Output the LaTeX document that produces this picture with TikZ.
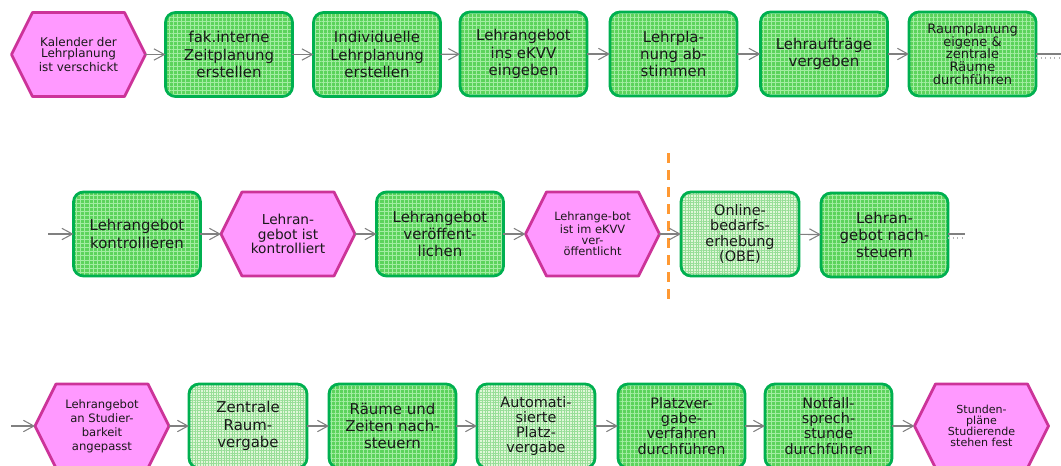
\documentclass[tikz,border=0pt]{standalone}
\usepackage{fontspec}
\setmainfont{DejaVu Sans}
\usetikzlibrary{arrows.meta,patterns.meta,backgrounds}
\definecolor{evtfill}{HTML}{FF99FF}
\definecolor{evtline}{HTML}{CC3399}
\definecolor{fnline}{HTML}{00B050}
\definecolor{fndark}{HTML}{5CD35C}
\definecolor{fngrid}{HTML}{A2EDA2}
\definecolor{fnlight}{HTML}{E0F7D8}
\definecolor{fnlightgrid}{HTML}{98DE98}
\definecolor{flowgray}{HTML}{808080}
\definecolor{cutorange}{HTML}{FF9933}

\begin{document}
\begin{tikzpicture}[x=0.02cm,y=-0.02cm,
  event/.style={rectangle,minimum width=2.68cm,minimum height=1.68cm,
    inner sep=1pt,outer sep=0pt,align=center,text=black!90,
    font=\fontsize{6.6}{6.4}\selectfont},
  hexline/.style={draw=evtline,fill=evtfill,line width=1.6pt,line join=round},
  funcbase/.style={rectangle,rounded corners=0.2cm,draw=fnline,line width=1.6pt,
    minimum height=1.68cm,inner sep=1pt,outer sep=0pt,align=center,text=black!90,
    font=\fontsize{8.5}{9.9}\selectfont},
  func/.style={funcbase,preaction={fill=fndark},minimum width=2.54cm,
    pattern={Hatch[angle=0,distance=2.3pt,line width=0.45pt]},pattern color=fngrid},
  funclight/.style={funcbase,preaction={fill=fnlight},minimum width=2.36cm,
    pattern={Hatch[angle=0,distance=1.5pt,line width=0.3pt]},pattern color=fnlightgrid},
  fourlines/.style={font=\fontsize{8.2}{8.6}\selectfont},
  flow/.style={draw=flowgray,line width=0.6pt,-{Straight Barb[length=6pt,width=6.5pt]}},
  contline/.style={draw=flowgray,line width=0.6pt},
  contdots/.style={draw=flowgray!60,line width=0.6pt,dotted}]
\clip (0,0) rectangle (1061,466);

\node[event,font=\fontsize{6.8}{6.4}\selectfont] (cal) at (78.5,54.5) {Kalender der\\Lehrplanung\\ist verschickt};
\node[func] (zeit) at (229,54.5) {fak.interne\\Zeitplanung\\erstellen};
\node[func] (indiv) at (377,54.5) {Individuelle\\Lehrplanung\\erstellen};
\node[func] (ekvv) at (523.5,54) {Lehrangebot\\ins eKVV\\eingeben};
\node[func] (abst) at (673.5,54) {Lehrpla-\\nung ab-\\stimmen};
\node[func] (auftr) at (824,54) {Lehraufträge\\vergeben};
\node[func,font=\fontsize{7.4}{7.2}\selectfont] (raum) at (972.5,54) {Raumplanung\\eigene \&\\zentrale\\Räume\\durchführen};
\coordinate (endA) at (1061,54);

\coordinate (inB) at (48,234);
\node[func] (kontr) at (137,234) {Lehrangebot\\kontrollieren};
\node[event,font=\fontsize{7.8}{8.4}\selectfont] (hexk) at (288,234) {Lehran-\\gebot ist\\kontrolliert};
\node[func] (veroef) at (440,234) {Lehrangebot\\veröffent-\\lichen};
\node[event,font=\fontsize{6.5}{6.2}\selectfont] (hexv) at (592.5,234) {Lehrange-bot\\ist im eKVV\\ver-\\öffentlicht};
\node[funclight,fourlines] (obe) at (740,234) {Online-\\bedarfs-\\erhebung\\(OBE)};
\node[func] (nach) at (884.5,235) {Lehran-\\gebot nach-\\steuern};
\coordinate (endB) at (965,234);
\draw[cutorange,line width=1.7pt,dash pattern=on 5.7pt off 4pt] (668,153) -- (668,300);

\coordinate (inC) at (11,426);
\node[event,font=\fontsize{6.6}{7.9}\selectfont] (hexs) at (102,426) {Lehrangebot\\an Studier-\\barkeit\\angepasst};
\node[funclight] (zentr) at (248,426) {Zentrale\\Raum-\\vergabe};
\node[func] (raeume) at (392.5,426) {Räume und\\Zeiten nach-\\steuern};
\node[funclight,fourlines] (auto) at (536,426) {Automati-\\sierte\\Platz-\\vergabe};
\node[func,fourlines] (platz) at (681.5,426) {Platzver-\\gabe-\\verfahren\\durchführen};
\node[func,fourlines] (notf) at (828.5,426) {Notfall-\\sprech-\\stunde\\durchführen};
\node[event,font=\fontsize{6.3}{6.2}\selectfont] (hexend) at (981.5,426) {Stunden-\\pläne\\Studierende\\stehen fest};

\begin{pgfonlayer}{background}
\foreach \ev in {cal,hexk,hexv,hexs,hexend}
  \path[hexline] (\ev.west) -- ([xshift=0.42cm]\ev.north west) -- ([xshift=-0.42cm]\ev.north east)
    -- (\ev.east) -- ([xshift=-0.42cm]\ev.south east) -- ([xshift=0.42cm]\ev.south west) -- cycle;
\end{pgfonlayer}

\foreach \from/\to in {cal/zeit,zeit/indiv,indiv/ekvv,ekvv/abst,abst/auftr,auftr/raum,
  inB/kontr,kontr/hexk,hexk/veroef,veroef/hexv,hexv/obe,obe/nach,
  inC/hexs,hexs/zentr,zentr/raeume,raeume/auto,auto/platz,platz/notf,notf/hexend}
  \draw[flow] (\from) -- (\to);
\draw[contline] (raum.east) -- (endA);
\draw[contdots] ([yshift=-4*0.02cm]raum.east) -- ([yshift=-4*0.02cm]endA);
\draw[contline] (nach.east |- endB) -- (endB);
\draw[contdots] ([yshift=-4*0.02cm]nach.east |- endB) -- ([yshift=-4*0.02cm]endB);
\end{tikzpicture}
\end{document}
